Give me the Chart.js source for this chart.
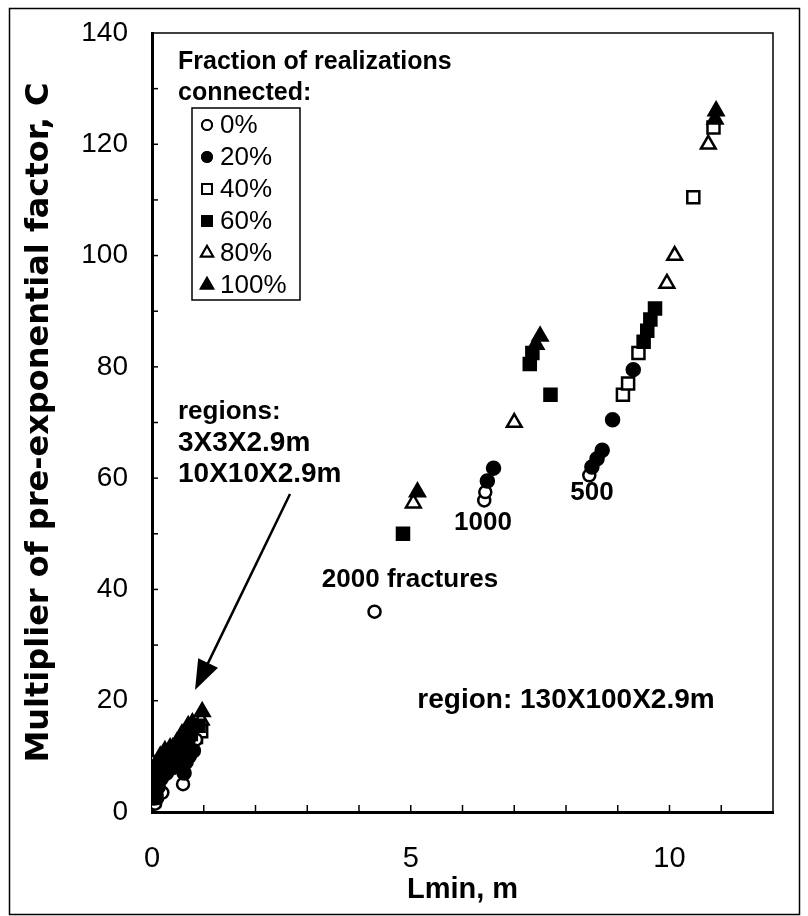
<!DOCTYPE html>
<html><head><meta charset="utf-8">
<script src="https://cdn.jsdelivr.net/npm/chart.js@4/dist/chart.umd.min.js"></script>
<style>html,body{margin:0;padding:0;background:#fff}#wrap{width:808px;height:916px;position:relative}</style>
</head><body><div id="wrap"><canvas id="c" width="808" height="916"></canvas></div>
<script>
// Series labels (fraction of realizations connected)
const seriesLabels = ['0%', '20%', '40%', '60%', '80%', '100%'];
// 0% (open circles)
const x0 = [0.06, 0.10, 0.08, 0.20, 0.60, 0.35, 0.55, 0.75, 0.85, 4.30, 6.42, 6.44, 8.45];
const y0 = [1.5, 2.5, 4.0, 3.5, 5.0, 8.0, 10.0, 12.0, 13.0, 36.0, 56.0, 57.5, 60.5];
// 20% (filled circles)
const x20 = [0.04, 0.08, 0.12, 0.05, 0.18, 0.28, 0.40, 0.55, 0.62, 0.66, 0.72, 0.80, 0.70, 6.48, 6.60, 8.50, 8.60, 8.70, 8.90, 9.30];
const y20 = [2.5, 3.0, 4.5, 6.0, 6.0, 7.0, 8.0, 8.5, 7.0, 9.0, 10.0, 11.0, 13.0, 59.5, 61.8, 62.0, 63.5, 65.0, 70.5, 79.5];
// 40% (open squares)
const x40 = [0.05, 0.10, 0.25, 0.45, 0.85, 0.95, 9.10, 9.20, 9.40, 10.46, 10.85];
const y40 = [9.0, 6.5, 7.5, 11.0, 13.5, 14.5, 75.0, 77.0, 82.5, 110.5, 123.0];
// 60% (filled squares)
const x60 = [0.04, 0.07, 0.12, 0.20, 0.30, 0.38, 0.50, 0.60, 0.68, 0.75, 0.90, 4.85, 7.30, 7.35, 7.70, 9.50, 9.57, 9.63, 9.72];
const y60 = [4.0, 5.5, 7.0, 8.5, 8.0, 9.5, 11.0, 8.5, 10.5, 14.0, 15.5, 50.0, 80.5, 82.5, 75.0, 84.5, 86.5, 88.5, 90.5];
// 80% (open triangles)
const x80 = [0.15, 0.40, 0.65, 0.95, 5.05, 7.00, 9.95, 10.10, 10.75];
const y80 = [9.0, 11.5, 13.5, 16.5, 55.5, 70.0, 95.0, 100.0, 120.0];
// 100% (filled triangles)
const x100 = [0.04, 0.09, 0.16, 0.25, 0.35, 0.48, 0.58, 0.70, 0.78, 0.97, 5.13, 7.42, 7.50, 10.88, 10.90];
const y100 = [7.0, 8.5, 10.0, 11.0, 11.5, 12.5, 14.0, 15.5, 16.0, 18.0, 57.5, 84.0, 85.5, 124.5, 126.0];
// Axis tick labels
const xTickLabels = [0, 5, 10];
const yTickLabels = [0, 20, 40, 60, 80, 100, 120, 140];

const xs = [x0, x20, x40, x60, x80, x100];
const ys = [y0, y20, y40, y60, y80, y100];
const styles = [
  {ps: 'circle', r: 6, fill: '#fff', order: 2},
  {ps: 'circle', r: 6.5, fill: '#000', order: 1},
  {ps: 'rect', r: 8.5, fill: '#fff', order: 2},
  {ps: 'rect', r: 8.5, fill: '#000', order: 1},
  {ps: 'triangle', r: 8.5, fill: '#fff', order: 2},
  {ps: 'triangle', r: 8.5, fill: '#000', order: 0}
];

const datasets = seriesLabels.map((lab, i) => ({
  label: lab,
  order: styles[i].order,
  data: xs[i].map((x, k) => ({x: x, y: ys[i][k]})),
  pointStyle: styles[i].ps,
  pointRadius: styles[i].r,
  pointBackgroundColor: styles[i].fill,
  pointBorderColor: '#000',
  pointBorderWidth: 2.5,
  showLine: false
}));

const FONT = '"Liberation Sans", Arial, sans-serif';

const decor = {
  id: 'decor',
  afterDraw(chart) {
    const ctx = chart.ctx;
    const xs_ = chart.scales.x, ys_ = chart.scales.y;
    const ca = chart.chartArea;
    ctx.save();
    ctx.strokeStyle = '#000';
    ctx.fillStyle = '#000';
    // outer frame
    ctx.lineWidth = 1.5;
    ctx.strokeRect(9.5, 8.5, 790, 906);
    // top & right border of plot
    ctx.beginPath();
    ctx.moveTo(ca.left, ca.top); ctx.lineTo(ca.right, ca.top); ctx.lineTo(ca.right, ca.bottom);
    ctx.stroke();
    // inside ticks
    ctx.lineWidth = 1.5;
    for (let v = 10; v < 140; v += 10) {
      const py = ys_.getPixelForValue(v);
      ctx.beginPath(); ctx.moveTo(ca.left, py); ctx.lineTo(ca.left + 6, py); ctx.stroke();
    }
    for (let v = 1; v < 12; v++) {
      const px = xs_.getPixelForValue(v);
      ctx.beginPath(); ctx.moveTo(px, ca.bottom); ctx.lineTo(px, ca.bottom - 7); ctx.stroke();
    }
    // legend
    ctx.font = 'bold 25px ' + FONT;
    ctx.textBaseline = 'middle';
    ctx.textAlign = 'left';
    ctx.fillText('Fraction of realizations', 178, 62);
    ctx.fillText('connected:', 178, 93);
    ctx.lineWidth = 1.5;
    ctx.strokeRect(192, 108, 108, 192);
    ctx.font = '26px ' + FONT;
    seriesLabels.forEach((lab, i) => {
      const yy = 125 + i * 32;
      const st = styles[i];
      ctx.fillStyle = st.fill;
      ctx.strokeStyle = '#000';
      ctx.lineWidth = 2;
      Chart.helpers.drawPoint(ctx, {pointStyle: st.ps, radius: st.ps === 'circle' ? 5 : 7, borderWidth: 2}, 207, yy);
      ctx.fill();
      ctx.stroke();
      ctx.fillStyle = '#000';
      ctx.fillText(lab, 220, yy + 1);
    });
    // annotations
    ctx.font = 'bold 26px ' + FONT;
    ctx.fillText('regions:', 178, 412);
    ctx.font = 'bold 28px ' + FONT;
    ctx.fillText('3X3X2.9m', 178, 443);
    ctx.fillText('10X10X2.9m', 178, 474);
    ctx.textAlign = 'center';
    ctx.font = 'bold 26px ' + FONT;
    ctx.fillText('1000', 483, 523);
    ctx.fillText('500', 592, 493);
    ctx.fillText('2000 fractures', 410, 580);
    ctx.font = 'bold 28px ' + FONT;
    ctx.fillText('region: 130X100X2.9m', 566, 700);
    // arrow
    const ax0 = 290, ay0 = 494, ax1 = 195, ay1 = 690;
    const ang = Math.atan2(ay1 - ay0, ax1 - ax0);
    ctx.lineWidth = 2.5;
    ctx.beginPath();
    ctx.moveTo(ax0, ay0);
    ctx.lineTo(ax1 - 24 * Math.cos(ang), ay1 - 24 * Math.sin(ang));
    ctx.stroke();
    ctx.beginPath();
    ctx.moveTo(ax1, ay1);
    ctx.lineTo(ax1 - 30 * Math.cos(ang) + 11 * Math.sin(ang), ay1 - 30 * Math.sin(ang) - 11 * Math.cos(ang));
    ctx.lineTo(ax1 - 30 * Math.cos(ang) - 11 * Math.sin(ang), ay1 - 30 * Math.sin(ang) + 11 * Math.cos(ang));
    ctx.closePath();
    ctx.fill();
    ctx.restore();
  }
};

new Chart(document.getElementById('c'), {
  type: 'scatter',
  data: {datasets: datasets},
  plugins: [decor],
  options: {
    responsive: false,
    animation: false,
    devicePixelRatio: 1,
    layout: {padding: {left: 0, top: 33, right: 35, bottom: 0}},
    plugins: {legend: {display: false}, tooltip: {enabled: false}},
    scales: {
      x: {
        type: 'linear', min: 0, max: 12,
        afterFit(s) { s.height = 104; s.paddingLeft = 0; s.paddingRight = 0; },
        grid: {display: false, drawTicks: false},
        border: {display: true, color: '#000', width: 3},
        ticks: {
          stepSize: 1, autoSkip: false, maxRotation: 0, padding: 30,
          color: '#000', font: {family: FONT, size: 29},
          callback: v => xTickLabels.includes(v) ? String(v) : ''
        },
        title: {display: true, text: 'Lmin, m', color: '#000',
          font: {family: FONT, size: 29, weight: 'bold'}, padding: {top: 0, bottom: 9}}
      },
      y: {
        type: 'linear', min: 0, max: 140,
        afterFit(s) { s.width = 152; s.paddingTop = 0; s.paddingBottom = 0; },
        grid: {display: false, drawTicks: false},
        border: {display: true, color: '#000', width: 3},
        ticks: {
          stepSize: 10, autoSkip: false, padding: 24,
          color: '#000', font: {family: FONT, size: 28},
          callback: v => yTickLabels.includes(v) ? String(v) : ''
        },
        title: {display: true, text: 'Multiplier of pre-exponential factor, C', color: '#000',
          font: {family: '"DejaVu Sans", sans-serif', size: 32, weight: 'bold'}, padding: {top: 20, bottom: 0}}
      }
    }
  }
});
</script></body></html>
